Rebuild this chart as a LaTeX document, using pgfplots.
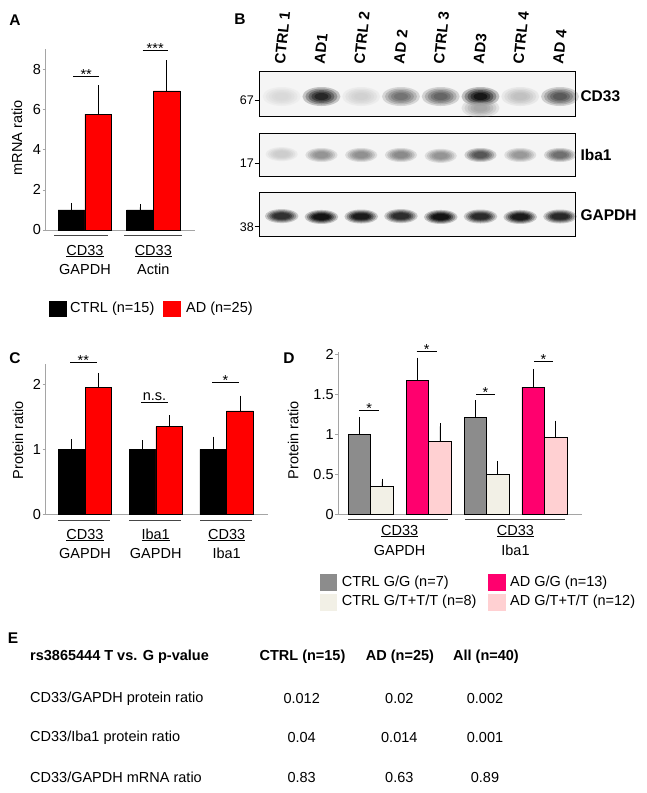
\documentclass[border=0pt]{standalone}
\usepackage{fontspec}
\setmainfont{Liberation Sans}
\usepackage{pgfplots}
\pgfplotsset{compat=1.18}
\usepackage{pgfplotstable}

\definecolor{adred}{RGB}{255,0,0}
\definecolor{ggray}{RGB}{140,140,140}
\definecolor{cream}{RGB}{242,240,230}
\definecolor{magen}{RGB}{255,0,110}
\definecolor{lpink}{RGB}{255,208,210}
\definecolor{axgray}{RGB}{165,165,165}
\definecolor{brk}{RGB}{70,70,70}

\pgfplotsset{
  panel/.style={scale only axis, anchor=south west,
    axis x line*=bottom, axis y line*=left,
    axis line style={axgray, line width=0.6pt},
    xtick=\empty, tick align=outside, major tick length=3pt,
    ytick style={axgray, line width=0.6pt},
    enlargelimits=false, clip=false,
    ticklabel style={font=\fontsize{14.5}{14.5}\selectfont},
    /pgf/number format/assume math mode=true,
    yticklabel style={inner sep=1.5pt}},
  mybar/.style={ybar, bar width=#1, bar shift=0pt, draw=black, line width=0.6pt,
    error bars/y dir=plus, error bars/y explicit,
    error bars/error bar style={black, line width=0.7pt},
    error bars/error mark options={black, line width=0.7pt, mark size=3pt}},
  blot/.style={scale only axis, anchor=south west, width=315.7pt,
    xmin=0.437, xmax=8.377, ymin=0, ymax=1, xtick=\empty, ytick=\empty,
    axis line style={black, line width=0.8pt},
    axis background/.style={fill=gray!8},
    colormap={blot}{gray(0cm)=(0.9); gray(1cm)=(0.02)},
    point meta min=0, point meta max=1},
  blotband/.style n args={3}{only marks, scatter, point meta=explicit, mark=*,
    mark size=#1, mark options={xscale=#3, draw opacity=0, line width=0pt},
    scatter/use mapped color={draw opacity=0, fill=mapped color, fill opacity=#2}},
}

% band intensity per lane (0 = none, 1 = darkest)
\pgfplotstableread{
x y v
1 0.44 0.06
2 0.44 0.92
3 0.44 0.10
4 0.44 0.55
5 0.44 0.62
6 0.44 1.00
6 0.18 0.30
7 0.44 0.18
8 0.44 0.68
}\cdtab
\pgfplotstableread{
x y v
1 0.52 0.12
2 0.50 0.40
3 0.50 0.42
4 0.50 0.45
5 0.48 0.40
6 0.50 0.70
7 0.50 0.38
8 0.50 0.58
}\ibatab
\pgfplotstableread{
x y v
1 0.46 0.82
2 0.44 0.95
3 0.45 0.92
4 0.46 0.84
5 0.44 0.95
6 0.45 0.85
7 0.44 0.92
8 0.45 0.86
}\gapdhtab

\begin{document}
\begin{tikzpicture}[font=\fontsize{14.5}{16}\selectfont]
\path[use as bounding box] (0,0) rectangle (646pt,-793pt);

% ---------- A ----------
\begin{axis}[panel, at={(45.7pt,-230pt)}, width=149.3pt, height=180.9pt,
  xmin=0.425, xmax=2.61, ymin=0, ymax=9, ytick={0,2,4,6,8}]
\addplot[mybar=26.8pt, fill=black] coordinates {(0.804,1.0) +- (0,0.2) (1.804,1.0) +- (0,0.13)};
\addplot[mybar=26.8pt, fill=adred] coordinates {(1.196,5.77) +- (0,1.28) (2.196,6.92) +- (0,1.37)};
\end{axis}

% ---------- C ----------
\begin{axis}[panel, at={(45.7pt,-514.3pt)}, width=222.6pt, height=150.8pt,
  xmin=0.445, xmax=3.588, ymin=0, ymax=2.32, ytick={0,1,2}]
\addplot[mybar=26.7pt, fill=black] coordinates {(0.811,1) +- (0,0.11) (1.811,1) +- (0,0.09) (2.811,1) +- (0,0.15)};
\addplot[mybar=26.7pt, fill=adred] coordinates {(1.189,1.95) +- (0,0.18) (2.189,1.35) +- (0,0.13) (3.189,1.59) +- (0,0.19)};
\end{axis}

% ---------- D ----------
\begin{axis}[panel, at={(338.3pt,-514.3pt)}, width=243.4pt, height=162.4pt,
  xmin=0.44, xmax=4.644, ymin=0, ymax=2.03, ytick={0,0.5,1,1.5,2}]
\addplot[mybar=22.5pt, fill=ggray] coordinates {(0.806,1.0) +- (0,0.18) (2.806,1.21) +- (0,0.18)};
\addplot[mybar=22.5pt, fill=cream] coordinates {(1.194,0.35) +- (0,0.06) (3.194,0.50) +- (0,0.13)};
\addplot[mybar=22.5pt, fill=magen] coordinates {(1.806,1.67) +- (0,0.25) (3.806,1.59) +- (0,0.19)};
\addplot[mybar=22.5pt, fill=lpink] coordinates {(2.194,0.91) +- (0,0.19) (4.194,0.96) +- (0,0.175)};
\end{axis}

% ---------- B (blots) ----------
\begin{axis}[blot, at={(259.3pt,-116pt)}, height=44.3pt]
\addplot[blotband={9.5}{0.22}{2}] table[meta=v]{\cdtab};
\addplot[blotband={8}{0.28}{2}] table[meta=v]{\cdtab};
\addplot[blotband={6.5}{0.35}{2}] table[meta=v]{\cdtab};
\addplot[blotband={5}{0.45}{2}] table[meta=v]{\cdtab};
\addplot[blotband={3.5}{0.6}{2}] table[meta=v]{\cdtab};
\end{axis}
\begin{axis}[blot, at={(259.3pt,-176.7pt)}, height=43.4pt]
\addplot[blotband={7}{0.22}{2.3}] table[meta=v]{\ibatab};
\addplot[blotband={6}{0.28}{2.3}] table[meta=v]{\ibatab};
\addplot[blotband={5}{0.35}{2.3}] table[meta=v]{\ibatab};
\addplot[blotband={4}{0.45}{2.3}] table[meta=v]{\ibatab};
\addplot[blotband={3}{0.55}{2.3}] table[meta=v]{\ibatab};
\end{axis}
\begin{axis}[blot, at={(259.3pt,-236pt)}, height=43.3pt]
\addplot[blotband={7}{0.22}{2.4}] table[meta=v]{\gapdhtab};
\addplot[blotband={6}{0.3}{2.45}] table[meta=v]{\gapdhtab};
\addplot[blotband={5}{0.4}{2.5}] table[meta=v]{\gapdhtab};
\addplot[blotband={4}{0.6}{2.6}] table[meta=v]{\gapdhtab};
\addplot[blotband={3}{0.8}{2.8}] table[meta=v]{\gapdhtab};
\end{axis}

\begin{scope}[x=1pt, y=-1pt]
% panel letters
\foreach \t/\px/\py in {A/15/20, B/240/19, C/15/358, D/289/358, E/13/638}
  \node[font=\fontsize{15.5}{15.5}\selectfont\bfseries] at (\px,\py) {\t};

% A annotations
\draw[line width=0.6pt] (73,76) -- (99.3,76);
\node[anchor=base] at (86.2,79) {**};
\draw[line width=0.6pt] (142.7,50.7) -- (167.7,50.7);
\node[anchor=base] at (155.2,53.7) {***};
\draw[brk, line width=0.6pt] (54,235.7) -- (108,235.7);
\draw[brk, line width=0.6pt] (124,235.7) -- (181.7,235.7);
\node[anchor=base] at (85,255) {\underline{CD33}};
\node[anchor=base] at (85,274) {GAPDH};
\node[anchor=base] at (153.3,255) {\underline{CD33}};
\node[anchor=base] at (153.3,274) {Actin};
\node[rotate=90] at (17,138) {mRNA ratio};
% A legend
\fill[black] (49.3,300.7) rectangle (66.7,316.7);
\node[anchor=west, inner sep=0pt] at (70,308.7) {CTRL (n=15)};
\fill[adred] (162.7,300.7) rectangle (181,316.7);
\node[anchor=west, inner sep=0pt] at (186,308.7) {AD (n=25)};

% B labels
\foreach \lab [count=\i] in {CTRL 1,AD1,CTRL 2,AD 2,CTRL 3,AD3,CTRL 4,AD 4}
  \node[anchor=west, rotate=84, font=\fontsize{15}{15}\selectfont\bfseries, inner sep=0pt]
    at ({259.3+(\i-0.437)*39.76-2}, 64) {\lab};
\node[anchor=west, font=\fontsize{15.5}{15.5}\selectfont\bfseries] at (577,96) {CD33};
\node[anchor=west, font=\fontsize{15.5}{15.5}\selectfont\bfseries] at (577,155) {Iba1};
\node[anchor=west, font=\fontsize{15.5}{15.5}\selectfont\bfseries] at (577,215) {GAPDH};
\foreach \m/\yy in {67/100, 17/163, 38/226.7} {
  \node[anchor=east, font=\fontsize{12.5}{12.5}\selectfont, inner sep=0pt] at (254,\yy) {\m};
  \draw[line width=0.5pt] (254.5,\yy) -- (259.3,\yy);
}

% C annotations
\draw[line width=0.6pt] (70,362.3) -- (96.7,362.3);
\node[anchor=base] at (83.3,365.3) {**};
\node[anchor=base] at (154.5,400.5) {n.s.};
\draw[line width=0.6pt] (141,402.7) -- (168,402.7);
\draw[line width=0.6pt] (212,382.3) -- (239,382.3);
\node[anchor=base] at (225.5,385.3) {*};
\foreach \a/\b in {58/110, 129/181, 200/251.7}
  \draw[brk, line width=0.6pt] (\a,520) -- (\b,520);
\node[anchor=base] at (85,539) {\underline{CD33}};
\node[anchor=base] at (85,558) {GAPDH};
\node[anchor=base] at (155.7,539) {\underline{Iba1}};
\node[anchor=base] at (155.7,558) {GAPDH};
\node[anchor=base] at (226.7,539) {\underline{CD33}};
\node[anchor=base] at (226.7,558) {Iba1};
\node[rotate=90] at (18,440) {Protein ratio};

% D annotations
\foreach \a/\b/\yy in {359.3/379.3/410, 416.7/436.7/351.7, 476/495/394, 534/552.7/361} {
  \draw[line width=0.6pt] (\a,\yy) -- (\b,\yy);
  \node[anchor=base] at ({(\a+\b)/2},\yy+3) {*};
}
\draw[brk, line width=0.6pt] (348.3,519.3) -- (448.3,519.3);
\draw[brk, line width=0.6pt] (465,519.3) -- (565,519.3);
\node[anchor=base] at (399.6,535) {\underline{CD33}};
\node[anchor=base] at (399.6,555) {GAPDH};
\node[anchor=base] at (515.5,535) {\underline{CD33}};
\node[anchor=base] at (515.5,555) {Iba1};
\node[rotate=90] at (293.3,440) {Protein ratio};
% D legend
\fill[ggray] (320,573.5) rectangle (337.3,590.5);
\node[anchor=west, inner sep=0pt] at (341.7,582.3) {CTRL G/G (n=7)};
\fill[cream] (320,594) rectangle (337.3,611);
\node[anchor=west, inner sep=0pt] at (341.7,602) {CTRL G/T+T/T (n=8)};
\fill[magen] (488.3,573.5) rectangle (505.7,590.5);
\node[anchor=west, inner sep=0pt] at (510,582.3) {AD G/G (n=13)};
\fill[lpink] (488.3,594) rectangle (505.7,611);
\node[anchor=west, inner sep=0pt] at (510,602) {AD G/T+T/T (n=12)};

% E table
\node[anchor=west, inner sep=0pt, font=\fontsize{14.5}{14.5}\selectfont\bfseries] at (30,656.7) {rs3865444 T vs. G p-value};
\node[font=\fontsize{14.5}{14.5}\selectfont\bfseries, inner sep=0pt] at (302.5,656.7) {CTRL (n=15)};
\node[font=\fontsize{14.5}{14.5}\selectfont\bfseries, inner sep=0pt] at (400,656.7) {AD (n=25)};
\node[font=\fontsize{14.5}{14.5}\selectfont\bfseries, inner sep=0pt] at (486,656.7) {All (n=40)};

\node[anchor=west, inner sep=0pt] at (30,698.3) {CD33/GAPDH protein ratio};
\node[inner sep=0pt] at (301.7,698.3) {0.012};
\node[inner sep=0pt] at (399.3,698.3) {0.02};
\node[inner sep=0pt] at (485,698.3) {0.002};

\node[anchor=west, inner sep=0pt] at (30,737.3) {CD33/Iba1 protein ratio};
\node[inner sep=0pt] at (301.7,737.3) {0.04};
\node[inner sep=0pt] at (399.3,737.3) {0.014};
\node[inner sep=0pt] at (485,737.3) {0.001};

\node[anchor=west, inner sep=0pt] at (30,777.7) {CD33/GAPDH mRNA ratio};
\node[inner sep=0pt] at (301.7,777.7) {0.83};
\node[inner sep=0pt] at (399.3,777.7) {0.63};
\node[inner sep=0pt] at (485,777.7) {0.89};
\end{scope}
\end{tikzpicture}
\end{document}
